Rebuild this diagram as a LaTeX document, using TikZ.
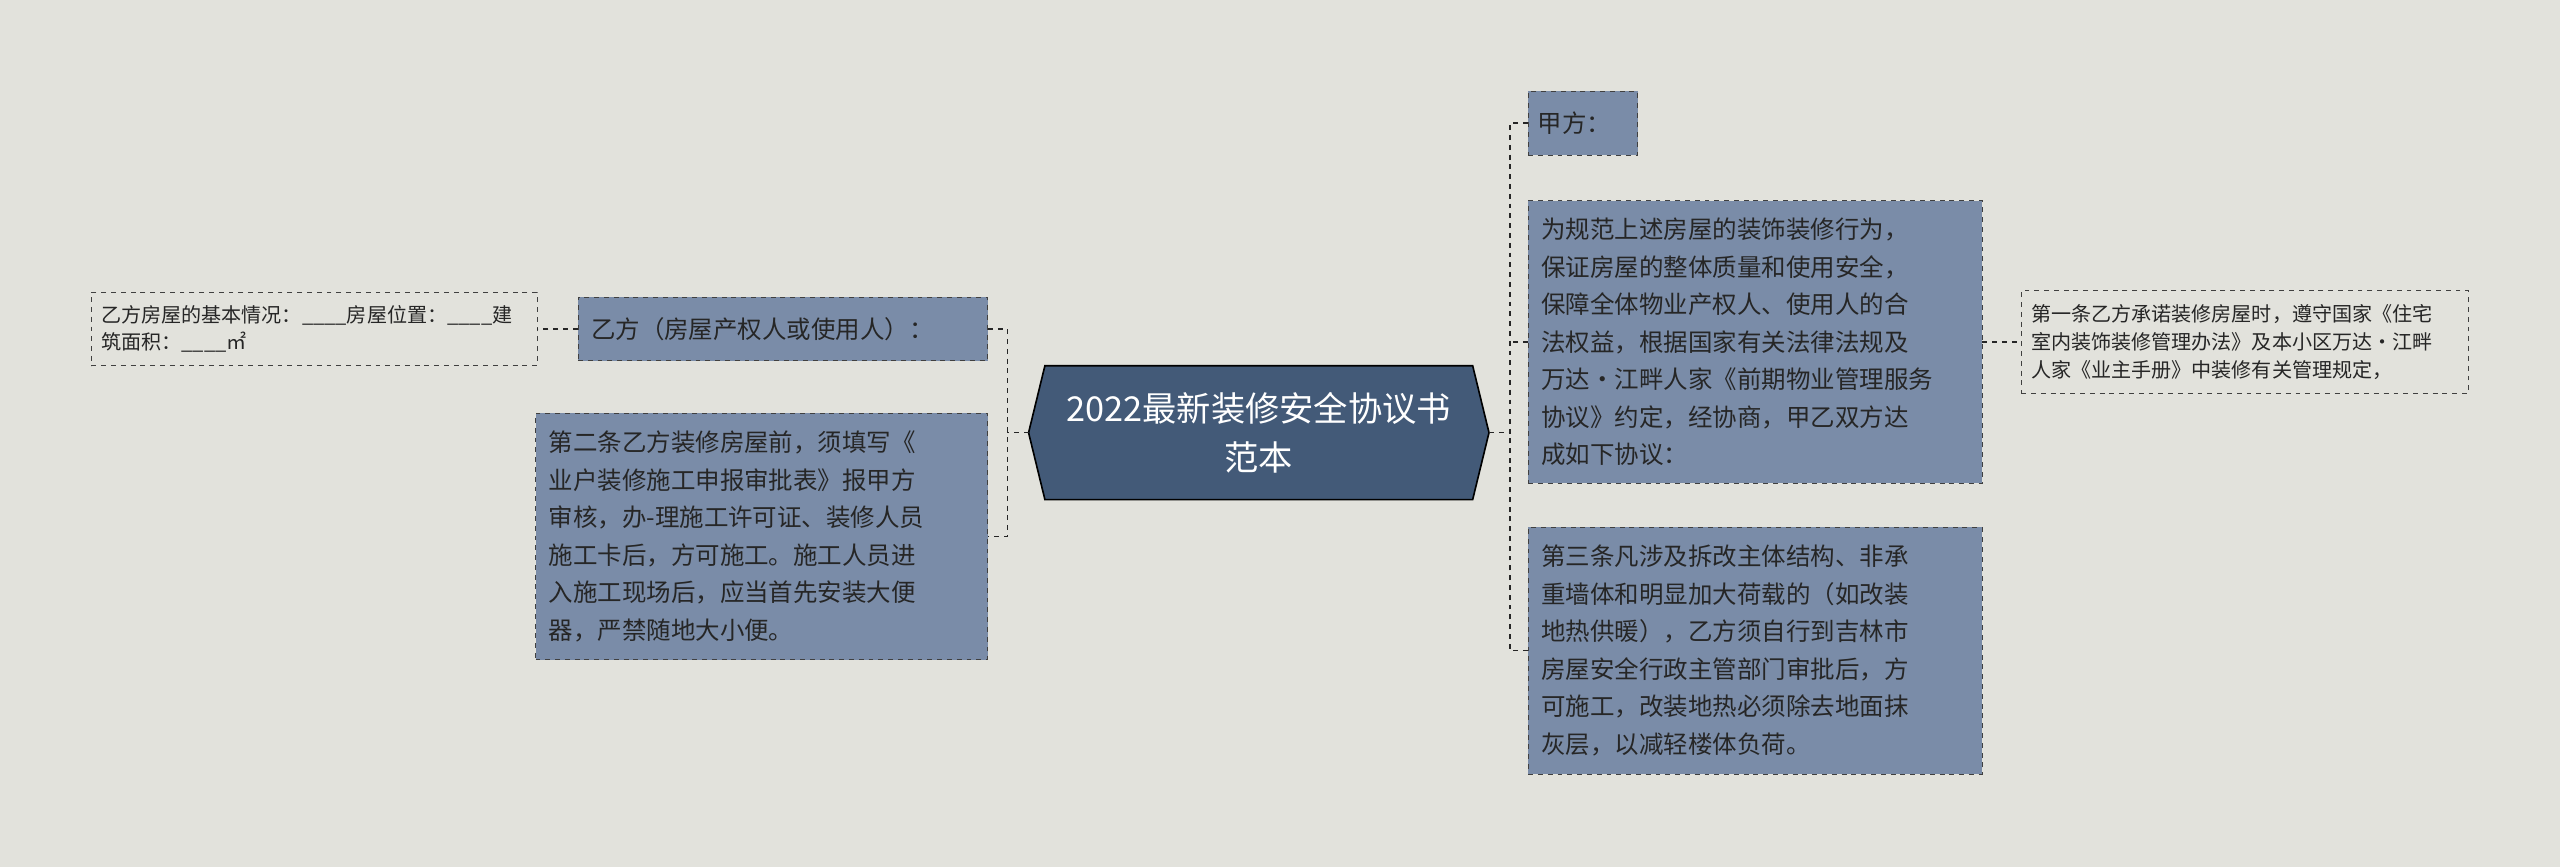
\documentclass[tikz,border=0pt]{standalone}
\usepackage{fontspec}
\setmainfont{Noto Sans CJK SC}
\begin{document}
\begin{tikzpicture}[x=1pt,y=1pt,
  box/.style={draw=black!75,dashed,fill=boxc,align=left,inner sep=0pt,font=\fontsize{15}{23}\selectfont,text=black!85},
  small/.style={draw=black!75,dashed,align=left,inner sep=0pt,font=\fontsize{12.3}{17}\selectfont,text=black!85},
  link/.style={draw=black!85,dashed,line width=1pt}]
\definecolor{bgc}{HTML}{E2E2DC}
\definecolor{boxc}{HTML}{7A8CA8}
\definecolor{cen}{HTML}{435A78}
\fill[bgc] (0,0) rectangle (1568,531);
\useasboundingbox (0,0) rectangle (1568,531);
% center
\fill[cen,draw=black,line width=1pt] (630,266) -- (640,307) -- (902,307) -- (912,266) -- (902,225) -- (640,225) -- cycle;
\node[align=center,text=white,font=\fontsize{21}{30}\selectfont] (c) at (771,266) {2022最新装修安全协议书\\范本};
\coordinate (cl) at (630,266); \coordinate (cr) at (912,266);
% left
\node[box,minimum width=251,minimum height=39,text width=235] (l1) at (479.5,329.5) {乙方（房屋产权人或使用人）：};
\node[box,minimum width=277,minimum height=151,text width=261] (l2) at (466.5,202.5) {第二条乙方装修房屋前，须填写《\\业户装修施工申报审批表》报甲方\\审核，办-理施工许可证、装修人员\\施工卡后，方可施工。施工人员进\\入施工现场后，应当首先安装大便\\器，严禁随地大小便。};
\node[small,minimum width=273,minimum height=45,text width=261] (l0) at (192.5,329.5) {乙方房屋的基本情况：\_\_\_\_房屋位置：\_\_\_\_建\\筑面积：\_\_\_\_㎡};
% right
\node[box,minimum width=67,minimum height=39,text width=55] (r1) at (969.5,455.5) {甲方：};
\node[box,minimum width=278,minimum height=173,text width=262] (r2) at (1075,321.5) {为规范上述房屋的装饰装修行为，\\保证房屋的整体质量和使用安全，\\保障全体物业产权人、使用人的合\\法权益，根据国家有关法律法规及\\万达·江畔人家《前期物业管理服务\\协议》约定，经协商，甲乙双方达\\成如下协议：};
\node[box,minimum width=278,minimum height=151,text width=262] (r3) at (1075,132.5) {第三条凡涉及拆改主体结构、非承\\重墙体和明显加大荷载的（如改装\\地热供暖），乙方须自行到吉林市\\房屋安全行政主管部门审批后，方\\可施工，改装地热必须除去地面抹\\灰层，以减轻楼体负荷。};
\node[small,minimum width=274,minimum height=63,text width=262] (r4) at (1375,321.5) {第一条乙方承诺装修房屋时，遵守国家《住宅\\室内装饰装修管理办法》及本小区万达·江畔\\人家《业主手册》中装修有关管理规定，};
% connectors
\draw[link] (cl) -- (617,266);
\draw[link] (l1.east) -| (617,266) |- (l2.east);
\draw[link] (l1.west) -- (l0.east);
\draw[link] (cr) -- (925,266);
\draw[link] (r1.west) -| (925,266);
\draw[link] (r2.west) -- (925,321.5);
\draw[link] (r3.west) -| (925,266);
\draw[link] (r2.east) -- (r4.west);
\end{tikzpicture}
\end{document}
